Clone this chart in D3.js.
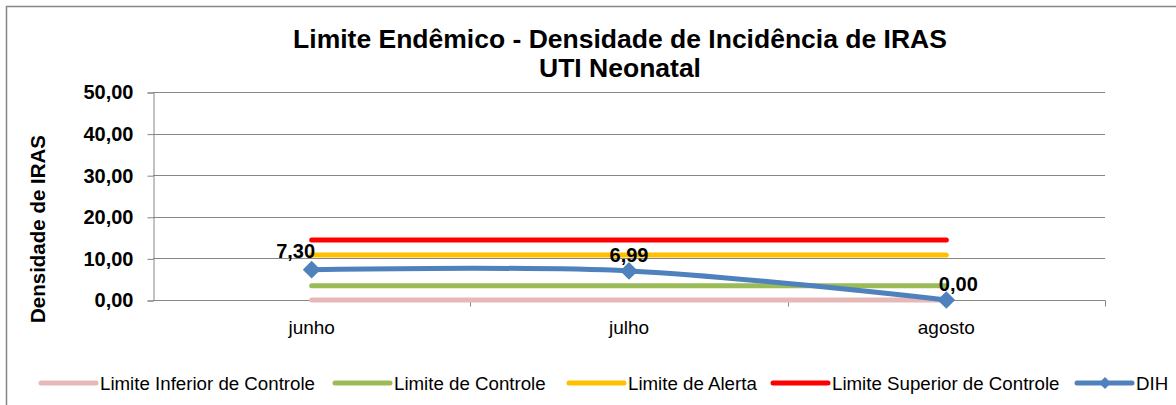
<!DOCTYPE html>
<html>
<head>
<meta charset="utf-8">
<script src="https://cdn.jsdelivr.net/npm/d3@7"></script>
<style>
  body { margin: 0; background: #fff; }
  text { font-family: "Liberation Sans", Arial, sans-serif; }
</style>
</head>
<body>
<svg id="chart" width="1176" height="405"></svg>
<script>
// dados
const months = ["junho", "julho", "agosto"];
const limInferior = [0, 0, 0];
const limControle = [3.4, 3.4, 3.4];
const limAlerta = [10.8, 10.8, 10.8];
const limSuperior = [14.4, 14.4, 14.4];
const dih = [7.30, 6.99, 0.00];
const yTicks = [0, 10, 20, 30, 40, 50];

const series = [
  {name: "Limite Inferior de Controle", values: limInferior, color: "#e6b9b8"},
  {name: "Limite de Controle", values: limControle, color: "#9bbb59"},
  {name: "Limite de Alerta", values: limAlerta, color: "#ffc000"},
  {name: "Limite Superior de Controle", values: limSuperior, color: "#ff0000"},
  {name: "DIH", values: dih, color: "#4f81bd", marker: true}
];

const margin = {top: 92, left: 153, right: 1105, bottom: 300};
const svg = d3.select("#chart");
const fmt = v => d3.format(".2f")(v).replace(".", ",");

// moldura
svg.append("rect")
  .attr("x", 6.5).attr("y", 6.5)
  .attr("width", 1200).attr("height", 450)
  .attr("fill", "none").attr("stroke", "#868686").attr("stroke-width", 1.5);

const x = d3.scaleBand().domain(months).range([margin.left, margin.right]);
const y = d3.scaleLinear().domain([0, 50]).range([margin.bottom, margin.top]);
const cx = m => x(m) + x.bandwidth() / 2;

// grade
svg.append("g").selectAll("line")
  .data(yTicks.filter(t => t > 0))
  .enter().append("line")
  .attr("x1", margin.left).attr("x2", margin.right)
  .attr("y1", d => Math.round(y(d)) + 0.5).attr("y2", d => Math.round(y(d)) + 0.5)
  .attr("stroke", "#868686").attr("stroke-width", 1);

// eixo y
const yAxis = svg.append("g")
  .attr("transform", "translate(" + (margin.left + 0.5) + ",0.5)")
  .call(d3.axisLeft(y).tickValues(yTicks).tickSize(6).tickPadding(14).tickFormat(fmt));
yAxis.selectAll("path, line").attr("stroke", "#868686");
yAxis.selectAll("text")
  .attr("font-size", 20).attr("font-weight", "bold").attr("fill", "#000")
  .attr("font-family", "Liberation Sans, Arial, sans-serif");

// eixo x
const xAxis = svg.append("g")
  .attr("transform", "translate(0," + (margin.bottom + 0.5) + ")");
xAxis.append("line")
  .attr("x1", margin.left).attr("x2", margin.right + 0.5)
  .attr("stroke", "#868686");
const bounds = months.map(m => x(m) + x.bandwidth());
xAxis.selectAll(".tk").data(bounds).enter().append("line")
  .attr("x1", d => Math.round(d) + 0.5).attr("x2", d => Math.round(d) + 0.5)
  .attr("y1", 0).attr("y2", 6).attr("stroke", "#868686");
xAxis.selectAll(".lbl").data(months).enter().append("text")
  .attr("x", d => cx(d)).attr("y", 33.5)
  .attr("text-anchor", "middle").attr("font-size", 19)
  .text(d => d);

// linhas
const line = d3.line()
  .x((d, i) => cx(months[i]))
  .y(d => y(d));
const smooth = d3.line()
  .x((d, i) => cx(months[i]))
  .y(d => y(d))
  .curve(d3.curveCardinal.tension(0));

series.forEach(s => {
  svg.append("path")
    .datum(s.values)
    .attr("d", s.marker ? smooth : line)
    .attr("fill", "none")
    .attr("stroke", s.color)
    .attr("stroke-width", 5)
    .attr("stroke-linecap", "round");
});

// marcadores e rótulos DIH
const dihG = svg.append("g");
dihG.selectAll("path").data(dih).enter().append("path")
  .attr("d", d3.symbol().type(d3.symbolDiamond2).size(200))
  .attr("transform", (d, i) => "translate(" + cx(months[i]) + "," + y(d) + ")")
  .attr("fill", "#4f81bd");
const labelOffset = [{dx: -16, dy: -12}, {dx: 0, dy: -9}, {dx: 12, dy: -9}];
dihG.selectAll("text").data(dih).enter().append("text")
  .attr("x", (d, i) => cx(months[i]) + labelOffset[i].dx)
  .attr("y", (d, i) => y(d) + labelOffset[i].dy)
  .attr("text-anchor", "middle")
  .attr("font-size", 20).attr("font-weight", "bold")
  .text(d => fmt(d));

// título
svg.append("text")
  .attr("x", 620).attr("y", 48)
  .attr("text-anchor", "middle").attr("font-size", 26.5).attr("font-weight", "bold")
  .text("Limite Endêmico - Densidade de Incidência de IRAS");
svg.append("text")
  .attr("x", 620).attr("y", 77)
  .attr("text-anchor", "middle").attr("font-size", 26.5).attr("font-weight", "bold")
  .text("UTI Neonatal");

// rótulo eixo y
svg.append("text")
  .attr("transform", "translate(45,229) rotate(-90)")
  .attr("text-anchor", "middle").attr("font-size", 20.5).attr("font-weight", "bold")
  .text("Densidade de IRAS");

// legenda
const legendX = [39, 333, 567, 771, 1075];
const leg = svg.append("g").attr("transform", "translate(0,383)");
series.forEach((s, i) => {
  const g = leg.append("g").attr("transform", "translate(" + legendX[i] + ",0)");
  g.append("line")
    .attr("x1", 2).attr("x2", 57)
    .attr("stroke", s.color).attr("stroke-width", 5).attr("stroke-linecap", "round");
  if (s.marker) {
    g.append("path")
      .attr("d", d3.symbol().type(d3.symbolDiamond2).size(90))
      .attr("transform", "translate(30,0)")
      .attr("fill", s.color);
  }
  g.append("text")
    .attr("x", 61).attr("y", 6.5)
    .attr("font-size", 18.7)
    .text(s.name);
});
</script>
</body>
</html>
